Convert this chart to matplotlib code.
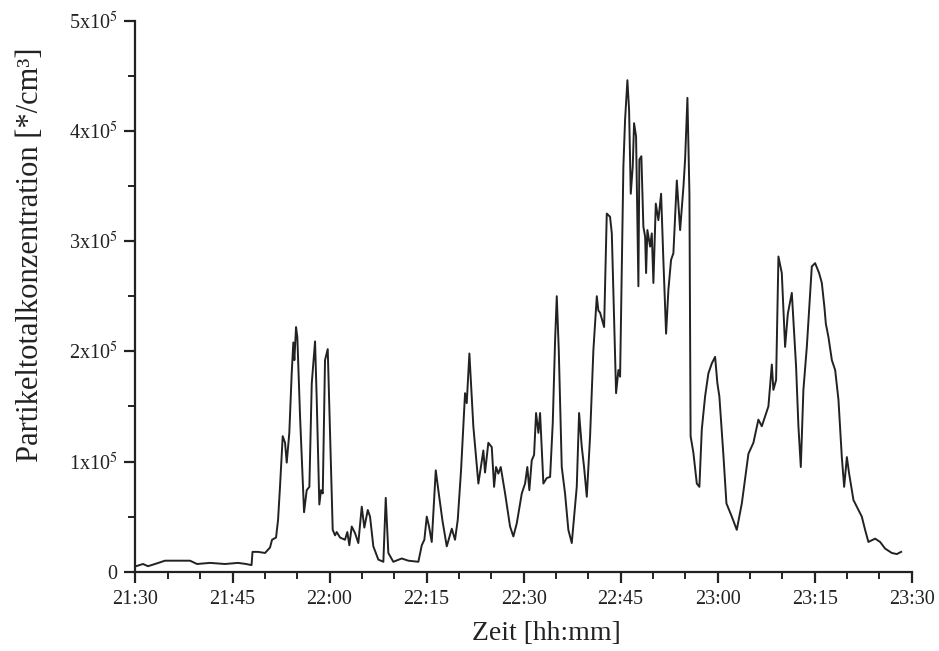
import numpy as np
import matplotlib
matplotlib.use('Agg')
import matplotlib.pyplot as plt
from matplotlib.ticker import MultipleLocator, FixedLocator

# minutes after 21:30
minutes = [0.08, 1.16, 1.93, 3.02, 4.56, 6.88, 8.43, 9.51, 11.52, 13.84, 15.85, 17.09, 17.94,
           18.09, 18.94, 20.03, 20.80, 21.11, 21.73, 22.04, 22.34, 22.76, 23.12, 23.38, 23.78,
           24.15, 24.40, 24.56, 24.82, 25.02, 25.44, 26.06, 26.47, 26.88, 27.25, 27.76, 28.02,
           28.42, 28.68, 28.95, 29.30, 29.72, 30.08, 30.49, 30.85, 31.11, 31.62, 32.39, 32.75,
           33.06, 33.43, 33.94, 34.45, 34.98, 35.38, 35.91, 36.26, 36.77, 37.54, 38.32, 38.69,
           39.09, 39.86, 41.16, 42.18, 43.73, 44.26, 44.66, 45.03, 45.38, 45.80, 46.42, 46.82,
           47.44, 48.12, 48.90, 49.40, 49.82, 50.33, 50.95, 51.21, 51.62, 52.23, 53.01, 53.78,
           54.04, 54.55, 55.08, 55.44, 55.74, 56.10, 56.47, 57.14, 57.91, 58.42, 58.95, 59.72,
           60.23, 60.58, 60.89, 61.26, 61.62, 61.93, 62.29, 62.55, 63.06, 63.58, 64.10, 64.51,
           64.87, 65.13, 65.44, 65.90, 66.41, 66.92, 67.45, 67.85, 68.22, 68.58, 69.00, 69.35,
           69.77, 70.28, 70.79, 71.32, 71.56, 71.83, 72.45, 72.86, 73.37, 73.64, 74.30, 74.66,
           74.92, 75.43, 75.69, 76.05, 76.31, 76.57, 76.88, 77.08, 77.39, 77.75, 77.90, 78.21,
           78.52, 78.79, 78.94, 79.14, 79.56, 79.82, 80.07, 80.44, 80.84, 81.26, 81.61, 82.03,
           82.39, 82.80, 83.16, 83.69, 84.20, 84.71, 84.97, 85.33, 85.64, 85.82, 86.25, 86.78,
           87.18, 87.55, 88.06, 88.57, 89.10, 89.61, 89.96, 90.27, 90.89, 91.36, 92.19, 92.96,
           93.74, 94.76, 95.53, 96.30, 96.83, 97.85, 98.38, 98.62, 99.04, 99.40, 99.92, 100.43,
           100.85, 101.47, 102.13, 102.49, 102.86, 103.26, 103.79, 104.56, 105.07, 105.69,
           106.11, 106.51, 106.73, 107.13, 107.66, 108.17, 108.68, 109.20, 109.56, 109.98,
           110.33, 111.00, 111.52, 112.29, 112.80, 113.31, 114.35, 115.12, 115.89, 116.93,
           117.70, 118.37]

# concentration in 1e5 per cm3
conc = [0.05, 0.07, 0.05, 0.07, 0.10, 0.10, 0.10, 0.07, 0.08, 0.07, 0.08, 0.07, 0.06,
        0.18, 0.18, 0.17, 0.22, 0.29, 0.31, 0.47, 0.77, 1.23, 1.17, 0.99, 1.26,
        1.80, 2.08, 1.92, 2.22, 2.13, 1.41, 0.54, 0.74, 0.77, 1.71, 2.09, 1.56,
        0.61, 0.74, 0.71, 1.92, 2.02, 1.26, 0.38, 0.33, 0.36, 0.31, 0.29, 0.36,
        0.24, 0.41, 0.35, 0.26, 0.59, 0.40, 0.56, 0.50, 0.23, 0.11, 0.09, 0.67,
        0.17, 0.09, 0.12, 0.10, 0.09, 0.24, 0.29, 0.50, 0.41, 0.27, 0.92, 0.74,
        0.47, 0.23, 0.39, 0.29, 0.47, 0.92, 1.62, 1.53, 1.98, 1.32, 0.80, 1.10,
        0.90, 1.17, 1.13, 0.77, 0.95, 0.89, 0.95, 0.71, 0.41, 0.32, 0.44, 0.71,
        0.80, 0.95, 0.74, 1.01, 1.06, 1.44, 1.26, 1.44, 0.80, 0.85, 0.86, 1.35,
        2.10, 2.50, 2.01, 0.95, 0.71, 0.38, 0.26, 0.53, 0.77, 1.44, 1.13, 0.95,
        0.68, 1.23, 2.01, 2.50, 2.37, 2.35, 2.22, 3.25, 3.22, 3.07, 1.62, 1.83,
        1.77, 3.68, 4.10, 4.46, 4.19, 3.43, 3.68, 4.07, 3.95, 2.59, 3.74, 3.77,
        3.13, 3.04, 2.71, 3.10, 2.95, 3.07, 2.62, 3.34, 3.19, 3.43, 2.83, 2.16,
        2.56, 2.83, 2.89, 3.55, 3.10, 3.49, 3.74, 4.30, 3.43, 1.23, 1.08, 0.80,
        0.77, 1.29, 1.59, 1.80, 1.89, 1.95, 1.71, 1.59, 1.06, 0.62, 0.50, 0.38,
        0.62, 1.07, 1.17, 1.38, 1.32, 1.50, 1.88, 1.65, 1.74, 2.86, 2.71, 2.04,
        2.34, 2.53, 1.86, 1.32, 0.95, 1.65, 2.04, 2.77, 2.80, 2.71,
        2.62, 2.40, 2.25, 2.13, 1.92, 1.83, 1.56, 1.04, 0.77, 1.04,
        0.89, 0.65, 0.59, 0.50, 0.38, 0.27, 0.30, 0.27, 0.21, 0.17,
        0.16, 0.18]

x_ticks = [0, 15, 30, 45, 60, 75, 90, 105, 120]
x_labels = ['21:30', '21:45', '22:00', '22:15', '22:30', '22:45', '23:00', '23:15', '23:30']
y_ticks = [0, 1, 2, 3, 4, 5]
y_labels = ['0', '1x10$^5$', '2x10$^5$', '3x10$^5$', '4x10$^5$', '5x10$^5$']

plt.rcParams['font.family'] = ['Liberation Serif', 'DejaVu Serif']
plt.rcParams['mathtext.fontset'] = 'stix'

fig = plt.figure(figsize=(9.39, 6.51), dpi=100)
ax = fig.add_axes([0.1443, 0.1218, 0.8266, 0.8464])

ax.plot(minutes, conc, color='#222222', lw=1.4)

ax.set_xlim(0, 120)
ax.set_ylim(0, 5)
ax.set_xticks(x_ticks)
ax.set_xticklabels(x_labels)
ax.xaxis.set_minor_locator(MultipleLocator(5))
ax.set_yticks(y_ticks)
ax.set_yticklabels(y_labels)
ax.yaxis.set_minor_locator(MultipleLocator(0.5))

for s in ['top', 'right']:
    ax.spines[s].set_visible(False)
for s in ['left', 'bottom']:
    ax.spines[s].set_linewidth(1.6)
    ax.spines[s].set_color('#222222')

ax.tick_params(which='major', direction='out', length=8, width=1.6, labelsize=14.5,
               colors='#222222', pad=5)
ax.tick_params(which='minor', direction='out', length=5, width=1.4, colors='#222222')

ax.set_xlabel('Zeit [hh:mm]', fontsize=20, color='#222222')
ax.set_ylabel('Partikeltotalkonzentration [*/cm³]', fontsize=22, color='#222222')
ax.xaxis.set_label_coords(0.529, -0.09)
ax.yaxis.set_label_coords(-0.117, 0.575)

fig.savefig('out.png', dpi=100)
